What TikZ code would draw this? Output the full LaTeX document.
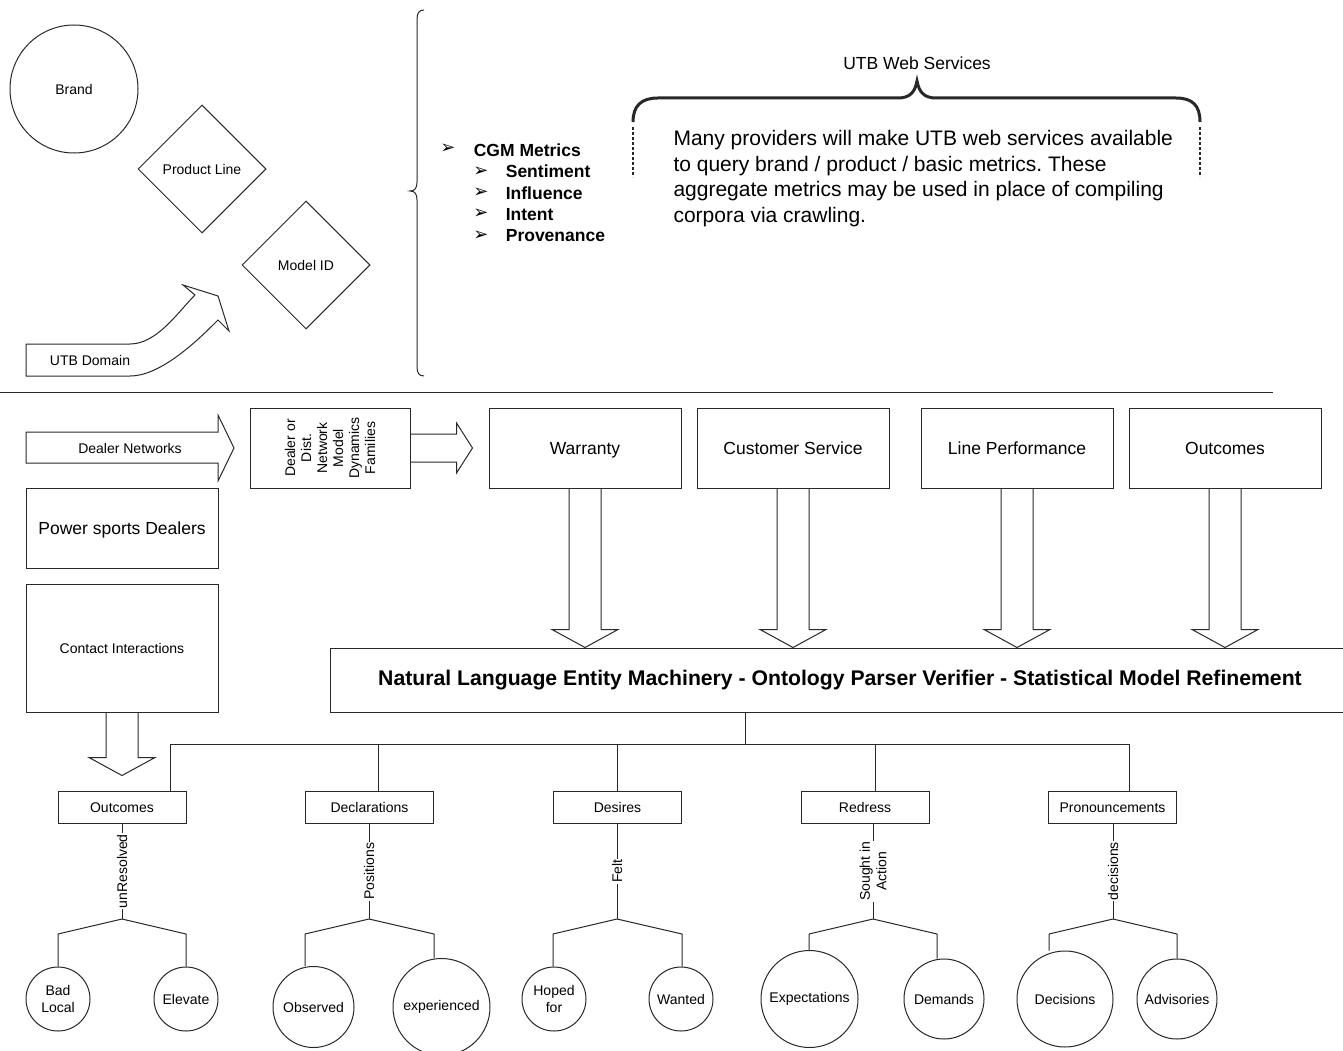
\documentclass[tikz,border=0pt]{standalone}
\usepackage{fontspec}
\setmainfont{Liberation Sans}
\newfontfamily\dingfont{DejaVu Sans}
\usetikzlibrary{shapes.geometric,calc,positioning}
\definecolor{ink}{RGB}{40,40,40}
\frenchspacing
% hollow block arrows between boxes
\newcommand{\blockdown}[3]{% from, to, gap
  \draw let \p1=(#1.south), \p2=(#2.north) in
    (\x1-16pt,\y1) -- (\x1-16pt,\y2+#3pt+18pt) -- (\x1-33pt,\y2+#3pt+18pt) -- (\x1,\y2+#3pt)
    -- (\x1+33pt,\y2+#3pt+18pt) -- (\x1+16pt,\y2+#3pt+18pt) -- (\x1+16pt,\y1);
}
\newcommand{\blockright}[3]{% from, to, gap
  \draw let \p1=(#1.east), \p2=(#2.west) in
    (\x1,\y1+14pt) -- (\x2-#3pt-16pt,\y1+14pt) -- (\x2-#3pt-16pt,\y1+25pt) -- (\x2-#3pt,\y1)
    -- (\x2-#3pt-16pt,\y1-25pt) -- (\x2-#3pt-16pt,\y1-14pt) -- (\x1,\y1-14pt);
}

\begin{document}
\begin{tikzpicture}[x=1pt,y=1pt,line width=1pt,draw=ink,
  lbl/.style={font=\fontsize{14}{16.5}\selectfont},
  big/.style={font=\fontsize{17.5}{21}\selectfont},
  bigbold/.style={font=\bfseries\fontsize{17.5}{21}\selectfont},
  box/.style={draw,minimum width=192,minimum height=80,inner sep=0,text height=12.5,text depth=0,big},
  smallbox/.style={draw,minimum width=128,minimum height=32,inner sep=0,text height=10,text depth=0,lbl},
  leaf/.style={draw,circle,inner sep=0,align=center,lbl},
  stemlbl/.style={lbl,rotate=90,fill=white,inner sep=1,align=center},
  bullet/.style={font=\dingfont\fontsize{18}{20}\selectfont}]
  \useasboundingbox (0,0) rectangle (1343,-1051);

  % upper part: brand / product / model
  \node[circle,draw,minimum size=128,inner sep=0,lbl] (brand) at (74,-89) {Brand};
  \node[diamond,draw,minimum width=128,minimum height=128,inner sep=0,lbl] (prodline) at (202,-169) {Product Line};
  \node[diamond,draw,minimum width=128,minimum height=128,inner sep=0,lbl] (modelid) at (306,-265) {Model ID};
  \draw (26,-344) -- (130,-344) .. controls (157,-344) and (178,-312) .. (195,-295) -- (183,-285) -- (218,-296)
    -- (229,-331) -- (218,-320) .. controls (200,-338) and (162,-376) .. (130,-376) -- (26,-376) -- cycle;
  \node[lbl] (domain) at (90,-360) {UTB Domain};

  % brace and metrics
  \draw (424,-10) .. controls (419,-10) and (417,-13) .. (417,-20) -- (417,-182)
    .. controls (417,-188) and (415,-191) .. (410,-191) .. controls (415,-191) and (417,-194) .. (417,-200)
    -- (417,-367) .. controls (417,-373) and (419,-376) .. (424,-376);
  \node[bullet] (b0) at (448,-149) {➢};
  \node[anchor=west,bigbold] (cgm) at (470,-150) {CGM Metrics};
  \foreach \t [count=\i] in {Sentiment,Influence,Intent,Provenance}{
    \node[bullet] (b\i) at (481,-150-21.4*\i) {➢};
    \node[anchor=west,bigbold] (m\i) at (502,-150-21.4*\i) {\t};
  }

  % web services
  \node[big] (websvc) at (917,-63) {UTB Web Services};
  \draw[line width=3pt] (633,-122) .. controls (633,-106) and (641,-98) .. (658,-98) -- (898,-98)
    .. controls (910,-98) and (915,-92) .. (917,-81) .. controls (919,-92) and (924,-98) .. (936,-98)
    -- (1176,-98) .. controls (1193,-98) and (1200,-106) .. (1200,-122);
  \draw[line width=1.6pt,dash pattern=on 3pt off 2pt] (633,-127) -- (633,-177);
  \draw[line width=1.6pt,dash pattern=on 3pt off 2pt] (1200,-127) -- (1200,-177);
  \node[anchor=north west,align=left,inner sep=0,font=\fontsize{21}{25.5}\selectfont] (webtext) at (673,-130)
    {Many providers will make UTB web services available\\to query brand / product / basic metrics. These\\aggregate metrics may be used in place of compiling\\corpora via crawling.};

  \draw (0,-392) -- (1273,-392);

  % dealers
  \draw (26,-432) -- (218,-432) -- (218,-415) -- (234,-448) -- (218,-481) -- (218,-463) -- (26,-463) -- cycle;
  \node[lbl] (dealernet) at (130,-448) {Dealer Networks};
  \node[box] (power) at (122,-528) {Power sports Dealers};
  \node[box,minimum height=128,lbl,text height=10] (contact) at (122,-648) {Contact Interactions};
  \node[box,minimum width=160] (dealer) at (330,-448) {};
  \node[rotate=90,align=center,font=\fontsize{14}{16}\selectfont] (dealertxt) at (dealer) {Dealer or\\Dist.\\Network\\Model\\Dynamics\\Families};

  % sources into the machinery
  \node[draw,minimum width=1020,minimum height=64,inner sep=0,font=\bfseries\fontsize{21.2}{24}\selectfont] (nl) at (840,-680)
    {Natural Language Entity Machinery - Ontology Parser Verifier - Statistical Model Refinement};
  \foreach \name/\x/\t in {warranty/585/Warranty,custserv/793/Customer Service,lineperf/1017/Line Performance,outcomes/1225/Outcomes}{
    \node[box] (\name) at (\x,-448) {\t};
    \blockdown{\name}{nl}{0}
  }
  \blockright{dealer}{warranty}{16}

  % categories
  \node[smallbox] (cat1) at (122,-807) {Outcomes};
  \node[smallbox] (cat2) at (369.5,-807) {Declarations};
  \node[smallbox] (cat3) at (617.5,-807) {Desires};
  \node[smallbox] (cat4) at (865,-807) {Redress};
  \node[smallbox] (cat5) at (1112.5,-807) {Pronouncements};
  \blockdown{contact}{cat1}{15}

  \coordinate (hub) at (745,-744);
  \draw (nl.south -| hub) -- (hub);
  \foreach \i/\x in {1/170,2/378,3/617,4/875,5/1129}{
    \coordinate (t\i) at (\x,-744);
    \draw (t\i) -- (t\i |- cat\i.north);
  }
  \draw (t1) -- (t5);

  % leaves
  \node[leaf,minimum size=64] (l1-a) at (58,-999) {Bad\\Local};
  \node[leaf,minimum size=64] (l1-b) at (186,-999) {Elevate};
  \node[leaf,minimum size=81] (l2-a) at (313.5,-1007) {Observed};
  \node[leaf,minimum size=97] (l2-b) at (441.5,-1007) {experienced};
  \node[leaf,minimum size=64] (l3-a) at (554,-999) {Hoped\\for};
  \node[leaf,minimum size=64] (l3-b) at (681,-999) {Wanted};
  \node[leaf,minimum size=97] (l4-a) at (809.5,-999) {Expectations};
  \node[leaf,minimum size=80] (l4-b) at (944,-999) {Demands};
  \node[leaf,minimum size=96] (l5-a) at (1065,-999) {Decisions};
  \node[leaf,minimum size=80] (l5-b) at (1177,-999) {Advisories};

  \foreach \i/\sx/\lx/\rx/\lab in {1/122/58/186/unResolved,2/369/305/434/Positions,3/617/553/682/Felt,
      4/873/809/937/{Sought in\\Action},5/1113/1049/1177/decisions}{
    \coordinate (s\i) at (\sx,-919);
    \draw (cat\i.south -| s\i) -- node[stemlbl]{\lab} (s\i);
    \draw (s\i) -- (\lx,-934) coordinate (sl\i) -- (sl\i |- l\i-a.north);
    \draw (s\i) -- (\rx,-934) coordinate (sr\i) -- (sr\i |- l\i-b.north);
  }
\end{tikzpicture}
\end{document}
